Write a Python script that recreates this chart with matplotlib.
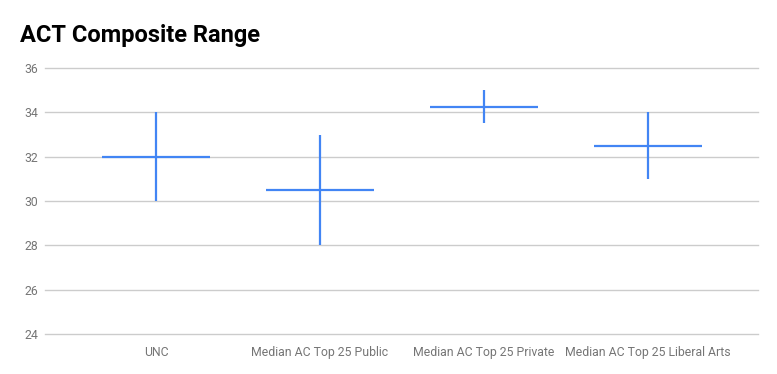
import matplotlib
matplotlib.use("Agg")
import matplotlib.pyplot as plt

plt.rcParams['font.family'] = ['Roboto', 'DejaVu Sans']

categories = ['UNC', 'Median AC Top 25 Public', 'Median AC Top 25 Private',
              'Median AC Top 25 Liberal Arts']
low = [30, 28, 33.5, 31]
high = [34, 33, 35, 34]
median = [32, 30.5, 34.25, 32.5]

fig = plt.figure(figsize=(7.77, 3.74), dpi=100)
ax = fig.add_axes([0.0579, 0.107, 0.9176, 0.711])

blue = '#4285F4'
x = list(range(len(categories)))
ax.vlines(x, low, high, color=blue, lw=1.6)
ax.hlines(median, [i - 0.33 for i in x], [i + 0.33 for i in x], color=blue, lw=1.6)

ax.set_xlim(-0.677, 3.67)
ax.set_ylim(24, 36)
ax.set_yticks(range(24, 37, 2))
ax.set_xticks(x)
ax.set_xticklabels(categories)
ax.grid(axis='y', color='#cccccc', lw=1)
for gl in ax.get_ygridlines():
    gl.set_clip_on(False)
ax.set_axisbelow(True)
for s in ax.spines.values():
    s.set_visible(False)
ax.tick_params(length=0, labelsize=8.8, colors='#757575')
ax.tick_params(axis='y', pad=5)
ax.tick_params(axis='x', pad=9)

fig.text(0.0257, 0.905, 'ACT Composite Range', fontsize=17, fontweight='bold',
         color='black', va='center')

fig.savefig('out.png', dpi=100)
